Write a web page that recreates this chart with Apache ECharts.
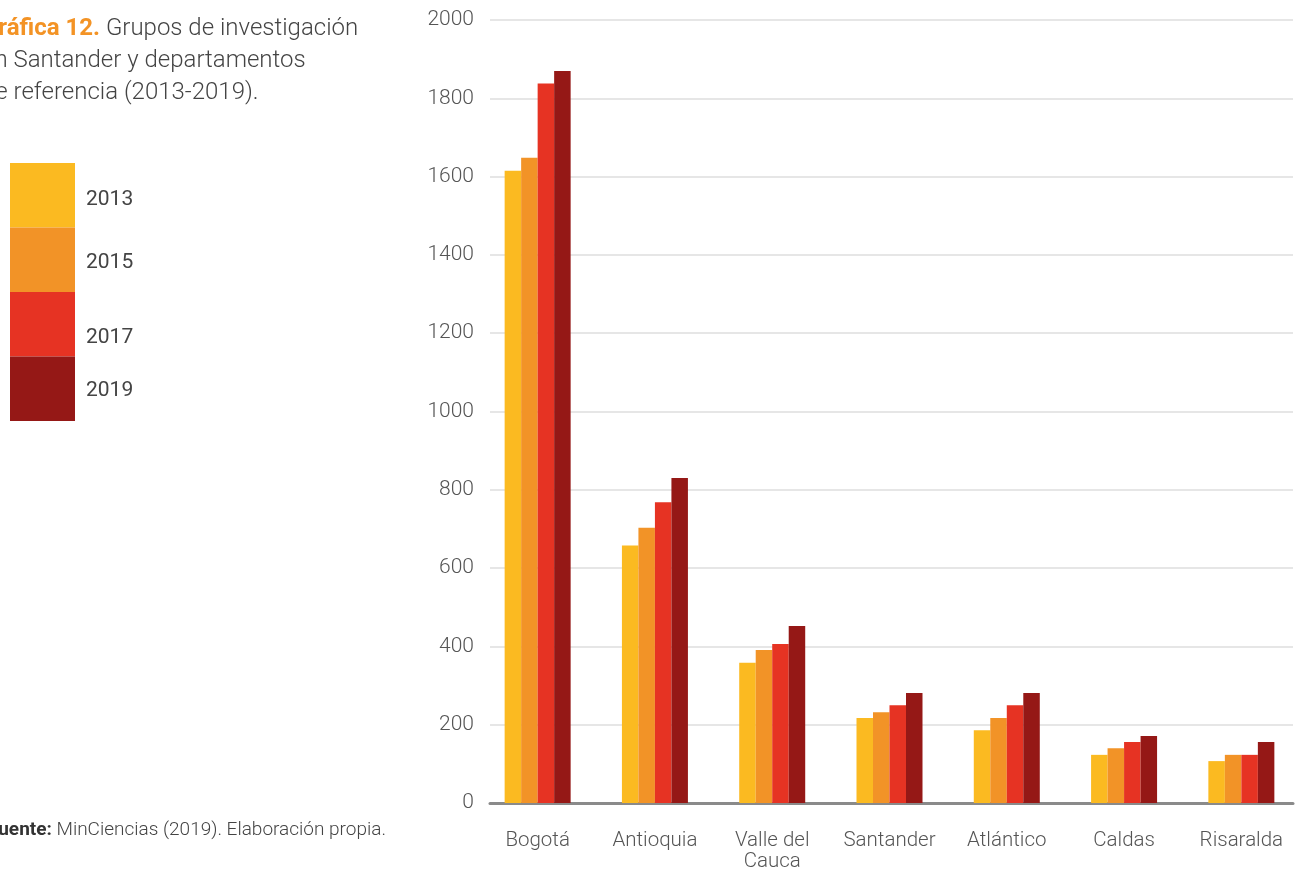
<!DOCTYPE html>
<html><head><meta charset="utf-8">
<script src="https://cdn.jsdelivr.net/npm/echarts@6/dist/echarts.min.js"></script>
<style>html,body{margin:0;padding:0;background:#fff;overflow:hidden}#c{width:1310px;height:869px}</style>
</head><body><div id="c"></div>
<script>
const categories = ['Bogotá', 'Antioquia', 'Valle del\nCauca', 'Santander', 'Atlántico', 'Caldas', 'Risaralda'];
const years = ['2013', '2015', '2017', '2019'];
const v2013 = [1615, 658, 358, 217, 186, 123, 107];
const v2015 = [1648, 703, 391, 232, 217, 140, 123];
const v2017 = [1838, 768, 406, 250, 250, 156, 123];
const v2019 = [1870, 830, 452, 281, 281, 171, 156];
const yTicks = [0, 200, 400, 600, 800, 1000, 1200, 1400, 1600, 1800, 2000];
const colors = ['#FBBA21', '#F29327', '#E63323', '#951816'];
const values = [v2013, v2015, v2017, v2019];
const FONT = 'Roboto, "Liberation Sans", sans-serif';

const chart = echarts.init(document.getElementById('c'));
chart.setOption({
  animation: false,
  textStyle: { fontFamily: FONT },
  grid: [
    { left: 479, width: 821, top: 20, bottom: 66, outerBoundsMode: 'none', containLabel: false },
    { left: 490, width: 803, top: 20, bottom: 66, outerBoundsMode: 'none', containLabel: false }
  ],
  xAxis: [
    { type: 'category', gridIndex: 0, data: categories,
      axisLine: { show: false }, axisTick: { show: false },
      axisLabel: { interval: 0, margin: 27, fontSize: 20.5, color: '#555', fontWeight: 300, lineHeight: 21, fontFamily: FONT } },
    { type: 'value', gridIndex: 1, min: 0, max: 1, show: true,
      axisLine: { show: true, lineStyle: { color: '#8a8a8a', width: 3 } },
      axisTick: { show: false }, axisLabel: { show: false }, splitLine: { show: false } }
  ],
  yAxis: [
    { type: 'value', gridIndex: 0, min: yTicks[0], max: yTicks[yTicks.length - 1], interval: 200, show: false, splitLine: { show: false } },
    { type: 'value', gridIndex: 1, min: yTicks[0], max: yTicks[yTicks.length - 1], interval: 200,
      axisLine: { show: false }, axisTick: { show: false },
      axisLabel: { margin: 16, fontSize: 21, color: '#555', fontWeight: 300, fontFamily: FONT,
        formatter: v => String(v) },
      splitLine: { show: true, lineStyle: { color: '#dedede', width: 1.5 } } }
  ],
  legend: {
    orient: 'vertical', left: 5, top: 158, itemWidth: 65, itemHeight: 64.5, itemGap: 0,
    icon: 'rect', data: years,
    formatter: n => '{y' + n + '|' + n + '}',
    textStyle: { fontSize: 21, color: '#444', padding: [0, 0, 0, 6], fontFamily: FONT,
      rich: {
        y2013: { fontSize: 21, color: '#444', padding: [8, 0, 0, 0] },
        y2015: { fontSize: 21, color: '#444', padding: [6, 0, 0, 0] },
        y2017: { fontSize: 21, color: '#444', padding: [26, 0, 0, 0] },
        y2019: { fontSize: 21, color: '#444', padding: [4, 0, 0, 0] }
      } }
  },
  graphic: [
    { type: 'text', left: -18, top: 13, style: {
      text: '{b|Gráfica 12.} Grupos de investigación\nen Santander y departamentos\nde referencia (2013-2019).',
      font: '300 24px ' + FONT, fill: '#444', lineHeight: 32,
      rich: { b: { fontWeight: 'bold', fill: '#F39325', fontSize: 24, fontFamily: FONT } } } },
    { type: 'text', left: -12, top: 821, style: {
      text: '{b|Fuente:} MinCiencias (2019). Elaboración propia.',
      font: '300 19px ' + FONT, fill: '#444',
      rich: { b: { fontWeight: 'bold', fill: '#333', fontSize: 19, fontFamily: FONT } } } }
  ],
  series: years.map((y, i) => ({
    name: y, type: 'bar', xAxisIndex: 0, yAxisIndex: 0, data: values[i],
    barWidth: 16.5, barGap: '0%', itemStyle: { color: colors[i] }
  }))
});
</script></body></html>
